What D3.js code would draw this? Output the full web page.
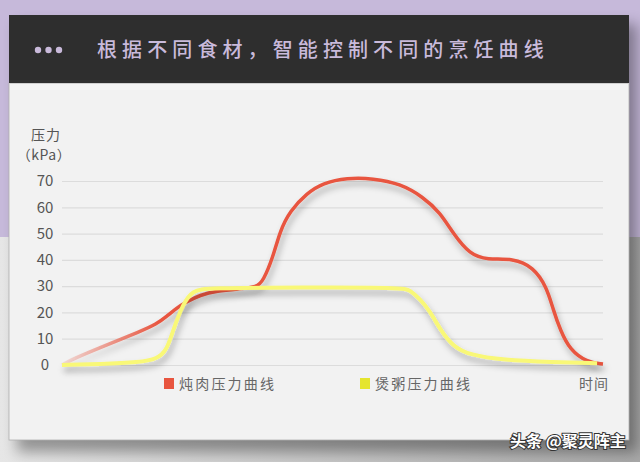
<!DOCTYPE html>
<html><head><meta charset="utf-8">
<script src="https://cdn.jsdelivr.net/npm/d3@7"></script>
<style>
html,body{margin:0;padding:0;background:#c6b9da;}
svg{display:block;}
text{font-family:"Noto Sans CJK SC","Noto Sans",sans-serif;}
</style></head>
<body>
<svg id="c" width="640" height="462"></svg>
<script>
// ---- data ----
const title = "根据不同食材，智能控制不同的烹饪曲线";
const yLabel1 = "压力";
const yLabel2 = "（kPa）";
const xLabel = "时间";
const seriesNames = ["炖肉压力曲线", "煲粥压力曲线"];
const yTicks = [0, 10, 20, 30, 40, 50, 60, 70];
// time (0-100) and pressure (kPa)
const stewTime  = [0, 2, 8.2, 14.4, 17.5, 19.3, 21.2, 23, 25.5, 28.6, 32.9, 36, 37.2, 39, 40.3, 42.1, 45.3, 48.2, 52.7, 57.5, 62.5, 66.7, 69.9, 72.3, 75.4, 78.6, 83.4, 87.1, 89.6, 90.8, 92.1, 93.9, 97, 100];
const stewValue = [0, 2.3, 7.6, 12.7, 15.6, 18.4, 21.7, 24, 26.6, 28.2, 29, 29.6, 32, 41, 51, 58.5, 65.4, 69.2, 71.2, 71, 69, 64, 58, 50, 42, 40, 40.6, 37.3, 29.7, 21, 13.3, 5.7, 1.1, 0.4];
const congeeTime  = [0, 7, 14.4, 17.6, 19.4, 20.5, 22.4, 24.2, 26.8, 44, 63, 64.3, 66.2, 68, 69.9, 72.3, 75.4, 81.5, 90.8, 98.9];
const congeeValue = [0, 0.3, 1.0, 2.3, 5.7, 13, 23.5, 28.3, 29.3, 29.5, 29.5, 28.5, 25, 20.5, 13.5, 7, 3.8, 1.9, 1.1, 0.7];

const svg = d3.select("#c");
const defs = svg.append("defs");

// background
const bgGrad = defs.append("linearGradient").attr("id","bgGrad").attr("x1","0").attr("x2","1").attr("y1","0").attr("y2","0");
bgGrad.append("stop").attr("offset","0").attr("stop-color","#e6e6e6");
bgGrad.append("stop").attr("offset","1").attr("stop-color","#a8a8a8");
svg.append("rect").attr("x",0).attr("y",0).attr("width",640).attr("height",237).attr("fill","#c6b9da");
svg.append("rect").attr("x",0).attr("y",237).attr("width",640).attr("height",225).attr("fill","url(#bgGrad)");

// card shadow
const sh = defs.append("filter").attr("id","cardShadow").attr("x","-20%").attr("y","-20%").attr("width","140%").attr("height","140%");
sh.append("feGaussianBlur").attr("stdDeviation",7);
svg.append("rect").attr("x",17).attr("y",24).attr("width",620).attr("height",428)
  .attr("fill","#000").attr("opacity",0.35).attr("filter","url(#cardShadow)");

// card
svg.append("rect").attr("x",9).attr("y",83).attr("width",620).attr("height",357).attr("fill","#f2f2f2")
  .attr("stroke","#b0b0b0").attr("stroke-width",0.8);
svg.append("rect").attr("x",9).attr("y",15).attr("width",620).attr("height",68).attr("fill","#2e2e2e");
svg.append("line").attr("x1",9).attr("x2",629).attr("y1",83.5).attr("y2",83.5).attr("stroke","#cfcfcf").attr("stroke-width",1);

// header title
const dotX = d3.scaleLinear().domain([0,2]).range([38,59]);
svg.selectAll("circle.dot").data([0,1,2]).enter().append("circle")
  .attr("cx", d=>dotX(d)).attr("cy",50).attr("r",3.2).attr("fill","#c9badb");
svg.append("text").attr("x",97).attr("y",57).text(title)
  .attr("font-size",20).attr("letter-spacing",5.1).attr("fill","#c9badb").attr("font-weight",500);

// chart
const x = d3.scaleLinear().domain([0,100]).range([62,603]);
const y = d3.scaleLinear().domain([0,70]).range([365,181]);

const grid = svg.append("g").attr("transform","translate(62,0)")
  .call(d3.axisLeft(y).tickValues(yTicks).tickSize(-541).tickFormat(d3.format("d")));
grid.select(".domain").remove();
grid.selectAll(".tick line").attr("stroke","#dcdcdc").attr("stroke-width",1.2);
grid.selectAll(".tick text").attr("x",-17).attr("text-anchor","middle")
  .attr("font-size",15).attr("fill","#555").attr("font-family","'Noto Sans','Noto Sans CJK SC',sans-serif");

svg.append("text").attr("x",46).attr("y",140).attr("text-anchor","middle").text(yLabel1)
  .attr("font-size",14).attr("letter-spacing",1).attr("fill","#555");
svg.append("text").attr("x",44).attr("y",160).attr("text-anchor","middle").text(yLabel2)
  .attr("font-size",14).attr("letter-spacing",0.5).attr("fill","#555");

// line shadow filter
const lf = defs.append("filter").attr("id","lineShadow").attr("x","-10%").attr("y","-20%").attr("width","120%").attr("height","140%");
lf.append("feDropShadow").attr("dx",2).attr("dy",5).attr("stdDeviation",3)
  .attr("flood-color","#000").attr("flood-opacity",0.3);

const redGrad = defs.append("linearGradient").attr("id","redGrad").attr("gradientUnits","userSpaceOnUse")
  .attr("x1",x(0)).attr("x2",x(18)).attr("y1",0).attr("y2",0);
redGrad.append("stop").attr("offset","0").attr("stop-color","#e8553f").attr("stop-opacity",0.15);
redGrad.append("stop").attr("offset","1").attr("stop-color","#e8553f").attr("stop-opacity",1);

const line = d3.line().x(d=>x(d[0])).y(d=>y(d[1])).curve(d3.curveBasis);
const stew = d3.zip(stewTime, stewValue);
const congee = d3.zip(congeeTime, congeeValue);

svg.append("path").attr("d",line(stew)).attr("fill","none").attr("stroke","url(#redGrad)")
  .attr("stroke-width",3.5).attr("filter","url(#lineShadow)");
svg.append("path").attr("d",line(congee)).attr("fill","none").attr("stroke","#f9f877")
  .attr("stroke-width",4).attr("filter","url(#lineShadow)");

// legend
const legendColors = ["#e8553f","#e5e52e"];
const legX = d3.scaleOrdinal().domain(seriesNames).range([164,360]);
const lg = svg.selectAll("g.leg").data(seriesNames).enter().append("g").attr("class","leg")
  .attr("transform", d=>`translate(${legX(d)},378)`);
lg.append("rect").attr("width",10).attr("height",11).attr("fill",(d,i)=>legendColors[i]);
lg.append("text").attr("x",15).attr("y",11).text(d=>d).attr("font-size",14).attr("letter-spacing",2.2).attr("fill","#666");
svg.append("text").attr("x",579).attr("y",389).text(xLabel).attr("font-size",14).attr("letter-spacing",1).attr("fill","#666");

// watermark
svg.append("text").attr("x",510).attr("y",447).text("头条 @聚灵阵主").attr("font-size",16).attr("font-weight",700)
  .attr("fill","#fff").attr("stroke","#333").attr("stroke-width",2).attr("paint-order","stroke");
</script>
</body></html>
